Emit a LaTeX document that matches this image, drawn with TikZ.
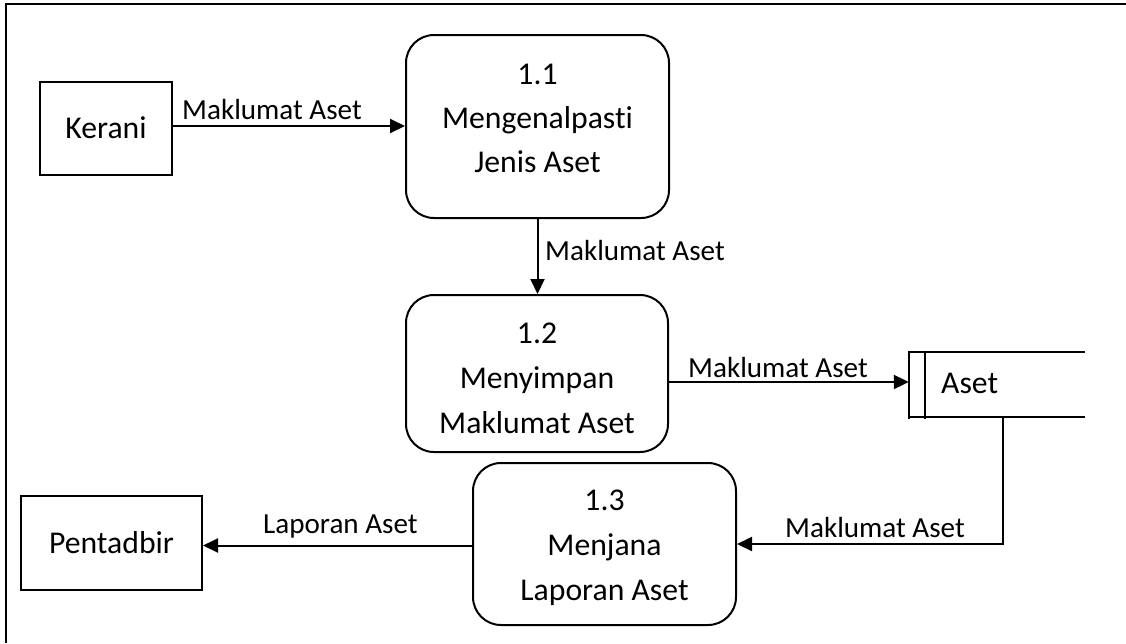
\documentclass[tikz,border=0pt]{standalone}
\usepackage{fontspec}
\setmainfont{Carlito}[Ligatures=NoCommon]
\usetikzlibrary{arrows.meta}
\begin{document}
\begin{tikzpicture}[x=1pt,y=-1pt,
  line/.style={line width=2pt},
  ent/.style={draw, line width=2pt, rectangle, inner sep=0pt},
  proc/.style={draw, line width=2pt, rounded corners=28pt, rectangle, inner sep=0pt},
  storebox/.style={rectangle, inner sep=0pt},
  ntext/.style={font=\fontsize{31.7}{38}\selectfont, anchor=base, inner sep=0pt},
  ltext/.style={font=\fontsize{29.1}{35}\selectfont, anchor=base west, inner sep=0pt},
  flow/.style={line width=2pt, -{Triangle[length=15pt,width=14pt]}}]
\useasboundingbox (0,0) rectangle (1126,643);
% frame (cropped)
\draw[line] (6,643) -- (6,4) -- (1126,4);

% external entities
\node[ent, minimum width=132pt, minimum height=93pt] (ker) at (106,128.5) {};
\node[ntext] (kert) at (106,138) {Kerani};
\node[ent, minimum width=181pt, minimum height=94pt] (pen) at (111.5,543) {};
\node[ntext] (pent) at (111.5,553) {Pentadbir};

% processes
\node[proc, minimum width=263pt, minimum height=183pt] (p1) at (537.5,126.5) {};
\node[ntext] (p1a) at (537.5,84.5) {1.1};
\node[ntext] (p1b) at (537.5,128.5) {Mengenalpasti};
\node[ntext] (p1c) at (537.5,172.5) {Jenis Aset};

\node[proc, minimum width=262pt, minimum height=157pt] (p2) at (537,373.5) {};
\node[ntext] (p2a) at (537,343) {1.2};
\node[ntext] (p2b) at (537,388) {Menyimpan};
\node[ntext] (p2c) at (537,433) {Maklumat Aset};

\node[proc, minimum width=263pt, minimum height=162pt] (p3) at (604.5,544) {};
\node[ntext] (p3a) at (604.5,510) {1.3};
\node[ntext] (p3b) at (604.5,555) {Menjana};
\node[ntext] (p3c) at (604.5,600) {Laporan Aset};

% data store
\node[storebox, minimum width=176pt, minimum height=65pt] (store) at (997,384.5) {};
\draw[line] (store.north east) -- (store.north west) -- ([yshift=-2pt]store.south west);
\draw[line] (store.south west) -- (store.south east);
\draw[line] ([xshift=16pt]store.north west) -- ([xshift=16pt,yshift=-2pt]store.south west);
\node[ntext, anchor=base west] (storet) at (941,393) {Aset};

% flows
\draw[flow] ([yshift=2.5pt]ker.east) -- ([yshift=2.5pt]ker.east -| p1.west);
\node[ltext] (l1) at (182,119) {Maklumat Aset};

\draw[flow] (p1.south) -- (p1.south |- p2.north);
\node[ltext] (l2) at (545,260) {Maklumat Aset};

\draw[flow] ([yshift=-8.5pt]p2.east) -- ([yshift=-8.5pt]p2.east -| store.west);
\node[ltext] (l3) at (688,377) {Maklumat Aset};

\draw[flow] ([xshift=6pt]store.south) |- (p3.east);
\node[ltext] (l4) at (785,537) {Maklumat Aset};

\draw[flow] ([yshift=-1.5pt]p3.west) -- ([yshift=-1.5pt]p3.west -| pen.east);
\node[ltext] (l5) at (263,533) {Laporan Aset};
\end{tikzpicture}
\end{document}
